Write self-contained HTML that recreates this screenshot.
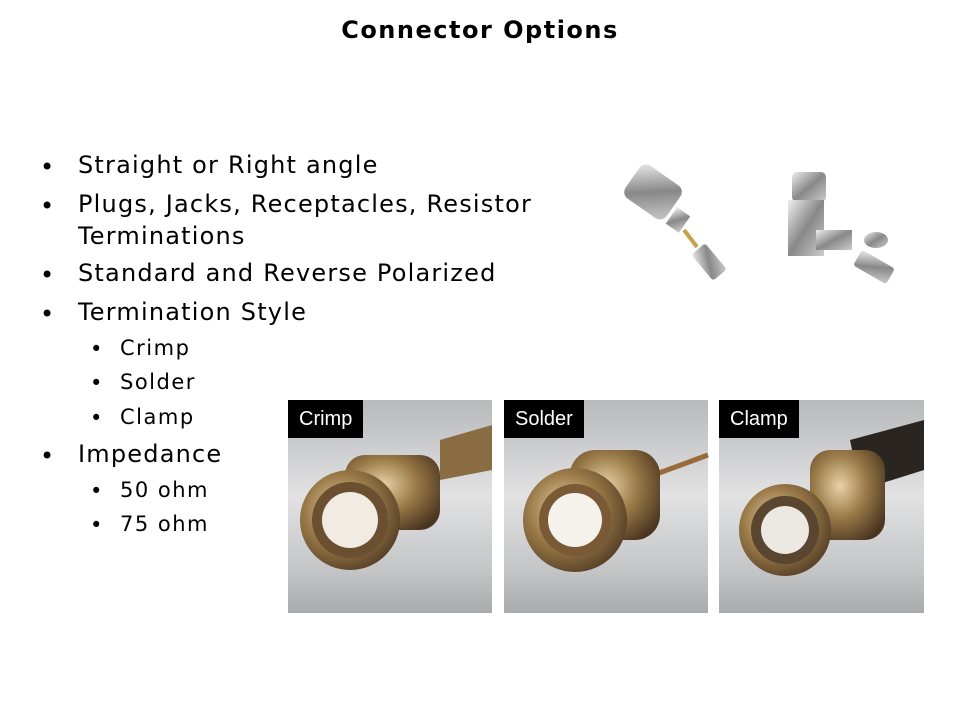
<!DOCTYPE html>
<html><head><meta charset="utf-8"><style>
body{margin:0;width:960px;height:720px;background:#fff;position:relative;overflow:hidden;font-family:"DejaVu Sans","Liberation Sans",sans-serif;color:#000}
.t{position:absolute;white-space:nowrap}
.b1{font-size:24px;letter-spacing:1.2px}
.b2{font-size:21px;letter-spacing:1.5px}
.lab{position:absolute;background:#000;color:#fff;font-family:"Liberation Sans",sans-serif;font-size:20px;height:38px;line-height:38px;padding:0 11px}
</style></head><body>
<div class="t" style="left:0;width:960px;text-align:center;top:16px;font-size:24px;font-weight:bold;letter-spacing:1.5px">Connector Options</div>

<div class="t b1" style="left:40px;top:153px">•</div><div class="t b1" style="left:78px;top:151px">Straight or Right angle</div>
<div class="t b1" style="left:40px;top:192px">•</div><div class="t b1" style="left:78px;top:190px">Plugs, Jacks, Receptacles, Resistor</div>
<div class="t b1" style="left:78px;top:222px">Terminations</div>
<div class="t b1" style="left:40px;top:261px">•</div><div class="t b1" style="left:78px;top:259px">Standard and Reverse Polarized</div>
<div class="t b1" style="left:40px;top:300px">•</div><div class="t b1" style="left:78px;top:298px">Termination Style</div>
<div class="t b2" style="left:90px;top:337px">•</div><div class="t b2" style="left:120px;top:336px">Crimp</div>
<div class="t b2" style="left:90px;top:371px">•</div><div class="t b2" style="left:120px;top:370px">Solder</div>
<div class="t b2" style="left:90px;top:406px">•</div><div class="t b2" style="left:120px;top:405px">Clamp</div>
<div class="t b1" style="left:40px;top:442px">•</div><div class="t b1" style="left:78px;top:440px">Impedance</div>
<div class="t b2" style="left:90px;top:479px">•</div><div class="t b2" style="left:120px;top:478px">50 ohm</div>
<div class="t b2" style="left:90px;top:513px">•</div><div class="t b2" style="left:120px;top:512px">75 ohm</div>

<svg style="position:absolute;left:0;top:0" width="960" height="720">
<defs>
<linearGradient id="bg" x1="0" y1="0" x2="0" y2="1"><stop offset="0" stop-color="#b8b9bb"/><stop offset="0.45" stop-color="#e2e2e3"/><stop offset="0.8" stop-color="#c4c5c7"/><stop offset="1" stop-color="#a9aaac"/></linearGradient>
<radialGradient id="gold" cx="0.4" cy="0.4" r="0.7"><stop offset="0" stop-color="#e8d3a6"/><stop offset="0.5" stop-color="#9a7a48"/><stop offset="1" stop-color="#4a3520"/></radialGradient>
<linearGradient id="sil" x1="0" y1="0" x2="1" y2="1"><stop offset="0" stop-color="#eee"/><stop offset="0.5" stop-color="#888"/><stop offset="1" stop-color="#ccc"/></linearGradient>
</defs>
<g>
<rect x="628" y="172" width="50" height="40" rx="8" fill="url(#sil)" transform="rotate(35 653 192)"/>
<rect x="670" y="210" width="16" height="20" fill="url(#sil)" transform="rotate(35 678 220)"/>
<line x1="684" y1="230" x2="697" y2="247" stroke="#c9a14a" stroke-width="4"/>
<rect x="700" y="245" width="18" height="34" rx="3" fill="url(#sil)" transform="rotate(-40 709 262)"/>
<rect x="792" y="172" width="34" height="30" rx="5" fill="url(#sil)"/>
<rect x="788" y="200" width="36" height="56" fill="url(#sil)"/>
<rect x="816" y="230" width="36" height="20" fill="url(#sil)"/>
<ellipse cx="876" cy="240" rx="12" ry="8" fill="url(#sil)"/>
<rect x="855" y="258" width="38" height="18" rx="3" fill="url(#sil)" transform="rotate(30 874 267)"/>
</g>
<g>
<rect x="288" y="400" width="204" height="213" fill="url(#bg)"/>
<path d="M440 440 L492 425 L492 470 L440 480Z" fill="#8a6c42"/>
<rect x="345" y="455" width="95" height="75" rx="20" fill="url(#gold)"/>
<circle cx="350" cy="520" r="50" fill="url(#gold)"/>
<circle cx="350" cy="520" r="38" fill="#6a5030"/>
<circle cx="350" cy="520" r="28" fill="#f1ebe2"/>
</g>
<g>
<rect x="504" y="400" width="204" height="213" fill="url(#bg)"/>
<line x1="640" y1="480" x2="708" y2="455" stroke="#9a6a3a" stroke-width="5"/>
<rect x="570" y="450" width="90" height="90" rx="25" fill="url(#gold)"/>
<circle cx="575" cy="520" r="52" fill="url(#gold)"/>
<circle cx="575" cy="520" r="36" fill="#7a5a36"/>
<circle cx="575" cy="520" r="27" fill="#f5f2ec"/>
</g>
<g>
<rect x="719" y="400" width="205" height="213" fill="url(#bg)"/>
<path d="M850 440 L924 420 L924 470 L860 490Z" fill="#2a2520"/>
<rect x="810" y="450" width="75" height="90" rx="20" fill="url(#gold)"/>
<circle cx="785" cy="530" r="46" fill="url(#gold)"/>
<circle cx="785" cy="530" r="34" fill="#5a4530"/>
<circle cx="785" cy="530" r="24" fill="#ece8e2"/>
</g>
</svg>
<div class="lab" style="left:288px;top:400px">Crimp</div>
<div class="lab" style="left:504px;top:400px">Solder</div>
<div class="lab" style="left:719px;top:400px">Clamp</div>
</body></html>
